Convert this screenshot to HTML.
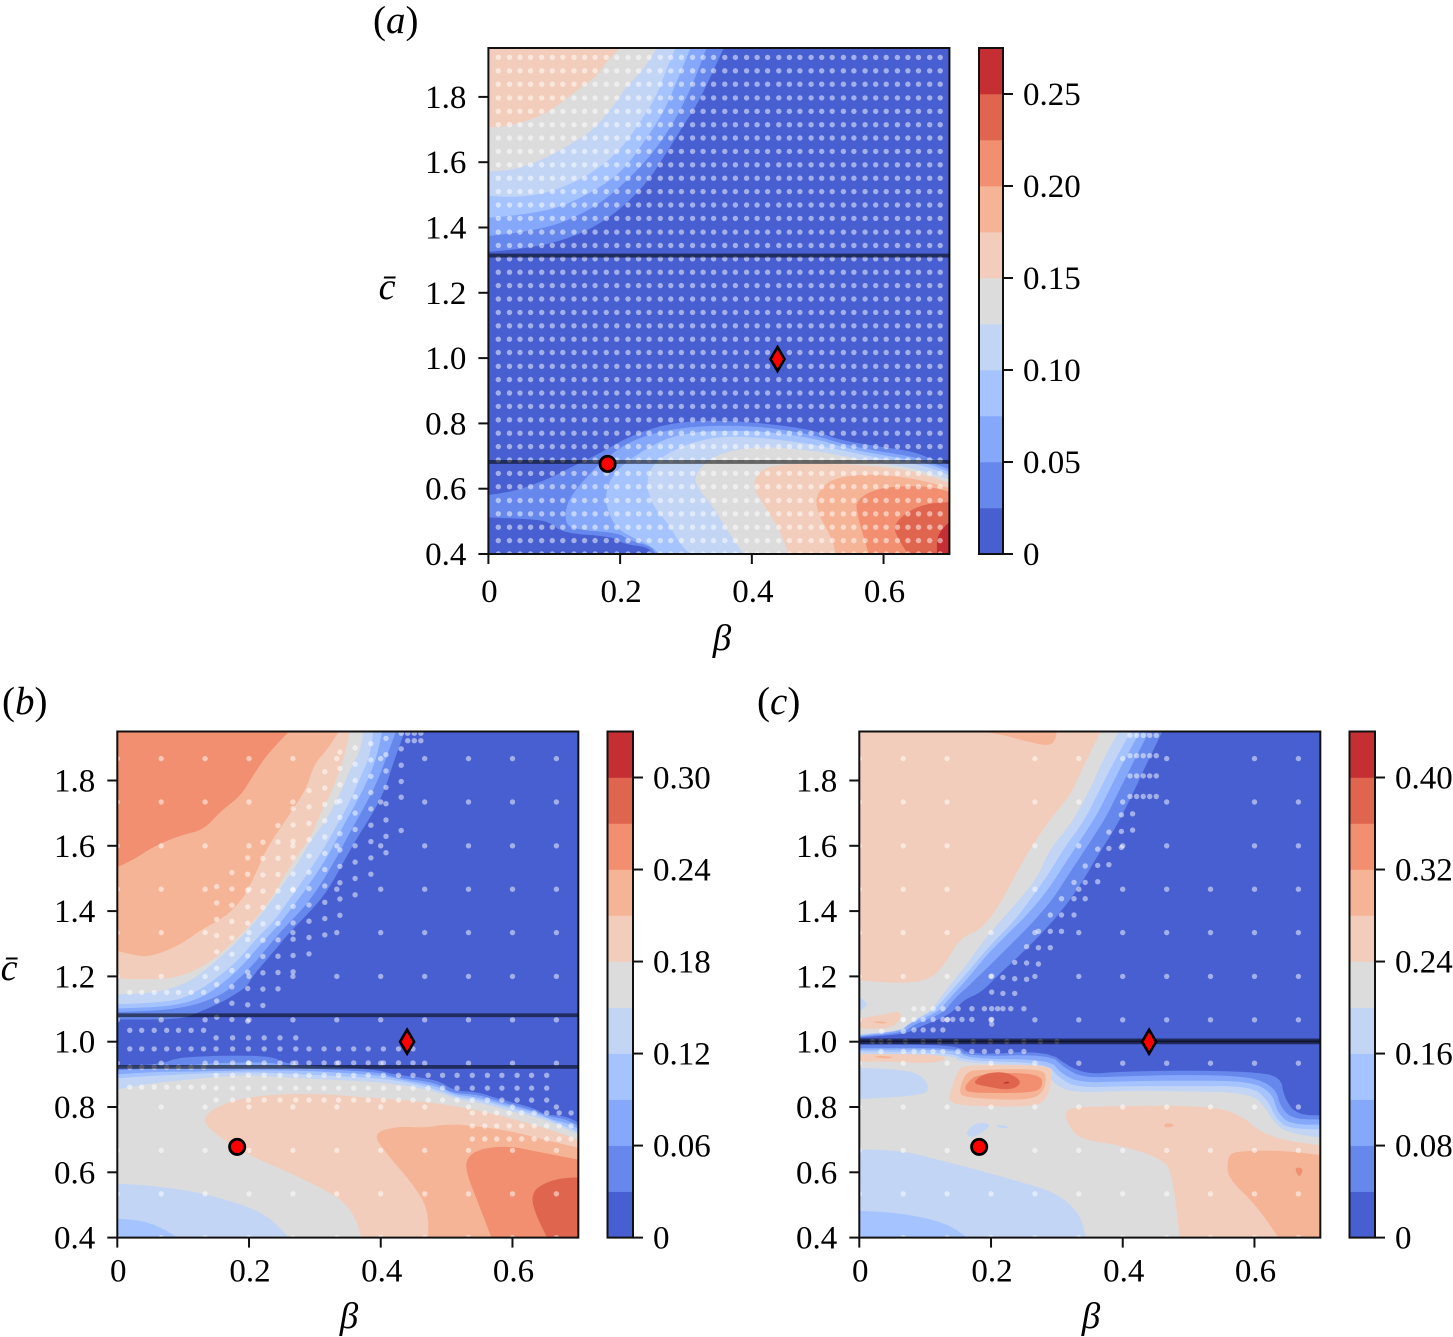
<!DOCTYPE html>
<html lang="en">
<head>
<meta charset="utf-8">
<title>Contour maps over beta and c-bar</title>
<style>
html,body{margin:0;padding:0;background:#fff;}
svg{display:block;}
text{font-family:"Liberation Serif",serif;fill:#000;}
</style>
</head>
<body>
<svg id="figure" xmlns="http://www.w3.org/2000/svg" width="1453" height="1337" viewBox="0 0 1453 1337"></svg>
<script>
const bandColors = ['#475fd1','#6687ec','#85a8fb','#a5c3fe','#c3d5f4','#dcdcdc','#f2cdbb','#f6b497','#f18f70','#e0654f','#c52e32'];

const xTicks = [0,0.2,0.4,0.6];
const xTickLabels = ['0','0.2','0.4','0.6'];
const yTicks = [0.4,0.6,0.8,1.0,1.2,1.4,1.6,1.8];
const yTickLabels = ['0.4','0.6','0.8','1.0','1.2','1.4','1.6','1.8'];

const levelsA = [0,0.025,0.05,0.075,0.1,0.125,0.15,0.175,0.2,0.225,0.25,0.275];
const levelsB = [0,0.03,0.06,0.09,0.12,0.15,0.18,0.21,0.24,0.27,0.30,0.33];
const levelsC = [0,0.04,0.08,0.12,0.16,0.20,0.24,0.28,0.32,0.36,0.40,0.44];

const cbarTicksA = [0,0.05,0.10,0.15,0.20,0.25];
const cbarLabelsA = ['0','0.05','0.10','0.15','0.20','0.25'];
const cbarTicksB = [0,0.06,0.12,0.18,0.24,0.30];
const cbarLabelsB = ['0','0.06','0.12','0.18','0.24','0.30'];
const cbarTicksC = [0,0.08,0.16,0.24,0.32,0.40];
const cbarLabelsC = ['0','0.08','0.16','0.24','0.32','0.40'];

const hLinesA = [1.314,0.682];
const hLinesB = [1.081,0.923];
const hLinesC = [1.004,0.998];

const circleA = [0.181,0.676];
const diamondA = [0.439,0.997];
const circleB = [0.182,0.678];
const diamondB = [0.44,1.0];
const circleC = [0.182,0.678];
const diamondC = [0.44,1.0];

/* Contours: region where value >= level, index i is levels[i+1]. Coordinates are (beta, c-bar). */
const contoursA = [
 [[[.362,1.97],[.321,1.790],[.295,1.709],[.270,1.627],[.240,1.535],[.199,1.453],[.153,1.392],[.098,1.351],[.037,1.331],[-.01,1.324],[-.01,1.97]],
  [[-.01,.578],[.037,.591],[.088,.627],[.133,.673],[.174,.714],[.209,.755],[.255,.790],[.300,.806],[.351,.809],[.417,.801],[.493,.780],[.533,.749],[.594,.729],[.645,.714],[.670,.693],[.71,.668],[.71,.39],[.250,.39],[.245,.420],[.204,.431],[.189,.453],[.113,.464],[.093,.499],[.062,.507],[-.01,.513]]],
 [[[-.01,1.372],[.047,1.384],[.103,1.407],[.153,1.453],[.189,1.504],[.224,1.571],[.255,1.642],[.285,1.734],[.311,1.841],[.335,1.97],[-.01,1.97]],
  [[.255,.39],[.250,.421],[.212,.443],[.199,.464],[.128,.476],[.116,.499],[.119,.556],[.138,.612],[.174,.688],[.214,.744],[.255,.772],[.300,.788],[.351,.794],[.417,.790],[.493,.765],[.544,.734],[.594,.714],[.645,.698],[.675,.678],[.71,.652],[.71,.39]]],
 [[[-.01,1.428],[.047,1.438],[.103,1.458],[.143,1.494],[.179,1.535],[.209,1.586],[.235,1.658],[.265,1.749],[.285,1.841],[.311,1.97],[-.01,1.97]],
  [[.262,.39],[.250,.423],[.204,.464],[.186,.504],[.176,.576],[.189,.647],[.224,.704],[.270,.755],[.311,.773],[.361,.778],[.422,.775],[.493,.755],[.544,.724],[.594,.704],[.645,.688],[.680,.668],[.71,.642],[.71,.39]]],
 [[[-.01,1.499],[.037,1.492],[.088,1.504],[.138,1.545],[.174,1.591],[.204,1.647],[.229,1.719],[.255,1.800],[.270,1.882],[.288,1.97],[-.01,1.97]],
  [[.311,.39],[.290,.433],[.275,.489],[.250,.545],[.239,.617],[.250,.678],[.290,.729],[.341,.758],[.392,.760],[.468,.744],[.533,.719],[.594,.693],[.645,.678],[.680,.658],[.71,.632],[.71,.39]]],
 [[[-.01,1.571],[.032,1.574],[.072,1.598],[.118,1.647],[.159,1.698],[.189,1.770],[.209,1.831],[.235,1.882],[.262,1.97],[-.01,1.97]],
  [[.392,.39],[.376,.433],[.356,.494],[.341,.545],[.316,.606],[.313,.642],[.336,.693],[.371,.719],[.422,.729],[.493,.717],[.544,.698],[.594,.678],[.645,.663],[.680,.642],[.71,.62],[.71,.39]]],
 [[[-.01,1.707],[.022,1.707],[.072,1.734],[.103,1.770],[.138,1.826],[.164,1.862],[.179,1.908],[.21,1.97],[-.01,1.97]],
  [[.457,.39],[.445,.464],[.417,.556],[.402,.601],[.407,.647],[.432,.673],[.493,.678],[.569,.673],[.635,.658],[.680,.632],[.71,.61],[.71,.39]]],
 [[[.528,.39],[.523,.443],[.495,.545],[.503,.601],[.528,.635],[.579,.645],[.635,.635],[.675,.617],[.71,.595],[.71,.39]]],
 [[[.579,.39],[.559,.525],[.559,.566],[.589,.601],[.640,.609],[.675,.605],[.71,.585],[.71,.39]]],
 [[[.640,.39],[.617,.464],[.617,.494],[.640,.535],[.670,.556],[.71,.56],[.71,.39]]],
 [[[.681,.39],[.681,.464],[.71,.515],[.71,.39]]]
];

const contoursB = [
 [[[.44,1.97],[.420,1.859],[.407,1.777],[.390,1.706],[.364,1.624],[.344,1.552],[.319,1.461],[.293,1.399],[.263,1.338],[.238,1.277],[.207,1.205],[.197,1.170],[.182,1.149],[.157,1.119],[.121,1.088],[.096,1.068],[-.01,1.068],[-.01,1.97]],
  [[-.01,.925],[.065,.930],[.096,.955],[.233,.959],[.255,.930],[.395,.915],[.415,.901],[.486,.884],[.511,.850],[.547,.846],[.582,.823],[.633,.797],[.648,.777],[.683,.772],[.71,.74],[.71,.39],[-.01,.39]]],
 [[[.427,1.97],[.410,1.879],[.395,1.797],[.377,1.726],[.354,1.644],[.334,1.568],[.309,1.481],[.283,1.410],[.253,1.348],[.227,1.287],[.200,1.221],[.177,1.180],[.167,1.155],[.141,1.129],[.111,1.109],[.065,1.095],[-.01,1.091],[-.01,1.97]],
  [[-.01,.912],[.081,.920],[.141,.935],[.238,.938],[.258,.920],[.395,.908],[.420,.891],[.486,.874],[.506,.843],[.547,.838],[.582,.816],[.633,.789],[.653,.772],[.683,.762],[.71,.73],[.71,.39],[-.01,.39]]],
 [[[.404,1.97],[.395,1.879],[.382,1.808],[.364,1.736],[.344,1.665],[.324,1.583],[.298,1.501],[.273,1.430],[.245,1.358],[.217,1.297],[.189,1.231],[.167,1.190],[.136,1.144],[.106,1.119],[.065,1.106],[-.01,1.101],[-.01,1.97]],
  [[-.01,.899],[.065,.908],[.116,.908],[.243,.915],[.395,.899],[.430,.884],[.486,.864],[.511,.838],[.547,.830],[.587,.807],[.638,.782],[.658,.762],[.683,.751],[.71,.722],[.71,.39],[-.01,.39]]],
 [[[.39,1.97],[.384,1.879],[.369,1.808],[.352,1.731],[.334,1.665],[.314,1.593],[.288,1.512],[.263,1.440],[.238,1.369],[.212,1.318],[.182,1.246],[.151,1.195],[.126,1.160],[.096,1.129],[.055,1.119],[-.01,1.114],[-.01,1.97]],
  [[-.01,.887],[.065,.897],[.192,.908],[.268,.901],[.395,.889],[.445,.874],[.486,.853],[.516,.830],[.547,.823],[.592,.799],[.643,.772],[.668,.751],[.71,.715],[.71,.39],[.10,.39],[.050,.450],[-.01,.46]]],
 [[[.375,1.97],[.369,1.889],[.354,1.838],[.339,1.762],[.319,1.685],[.293,1.614],[.273,1.542],[.248,1.471],[.222,1.399],[.197,1.338],[.167,1.277],[.131,1.215],[.101,1.175],[.055,1.149],[-.01,1.144],[-.01,1.97]],
  [[-.01,.850],[.040,.869],[.106,.884],[.192,.899],[.268,.889],[.395,.877],[.445,.864],[.491,.843],[.516,.823],[.552,.813],[.597,.787],[.648,.762],[.673,.741],[.71,.705],[.71,.39],[.265,.39],[.233,.460],[.192,.501],[.116,.542],[.040,.562],[-.01,.565]]],
 [[[.356,1.97],[.344,1.869],[.326,1.767],[.303,1.675],[.293,1.624],[.263,1.542],[.238,1.450],[.207,1.369],[.177,1.307],[.136,1.236],[.091,1.195],[.035,1.190],[-.01,1.195],[-.01,1.97]],
  [[.372,.39],[.362,.460],[.339,.522],[.268,.593],[.192,.659],[.136,.736],[.131,.772],[.157,.807],[.202,.833],[.293,.843],[.384,.828],[.471,.816],[.547,.792],[.623,.751],[.673,.721],[.71,.69],[.71,.39]]],
 [[[.342,1.97],[.321,1.900],[.298,1.848],[.288,1.777],[.258,1.685],[.227,1.593],[.207,1.501],[.192,1.440],[.162,1.379],[.131,1.348],[.096,1.297],[.050,1.259],[.020,1.267],[-.01,1.284],[-.01,1.97]],
  [[.472,.39],[.472,.491],[.445,.573],[.410,.654],[.387,.719],[.425,.741],[.466,.736],[.501,.748],[.547,.741],[.597,.726],[.648,.700],[.71,.67],[.71,.39]]],
 [[[.27,1.97],[.227,1.879],[.207,1.818],[.187,1.752],[.157,1.706],[.131,1.649],[.096,1.632],[.055,1.598],[.025,1.558],[-.01,1.525],[-.01,1.97]],
  [[.57,.39],[.547,.511],[.531,.593],[.529,.639],[.547,.670],[.592,.682],[.648,.659],[.71,.635],[.71,.39]]],
 [[[.655,.39],[.633,.481],[.629,.532],[.643,.562],[.673,.583],[.71,.585],[.71,.39]]],
 [[[.71,.50],[.697,.471],[.71,.43]]]
];

const contoursC = [
 [[[.465,1.97],[.437,1.854],[.417,1.767],[.392,1.665],[.366,1.583],[.336,1.481],[.311,1.410],[.280,1.338],[.245,1.267],[.214,1.210],[.184,1.149],[.159,1.129],[.138,1.083],[.088,1.042],[.067,1.022],[-.01,1.012],[-.01,1.97]],
  [[-.01,.991],[.148,.991],[.169,.959],[.285,.973],[.321,.920],[.351,.901],[.392,.908],[.493,.912],[.594,.908],[.640,.894],[.645,.828],[.665,.775],[.71,.775],[.71,.39],[-.01,.39]]],
 [[[.445,1.97],[.417,1.859],[.394,1.767],[.374,1.685],[.346,1.598],[.321,1.522],[.295,1.440],[.265,1.369],[.235,1.307],[.204,1.246],[.171,1.180],[.143,1.129],[.128,1.088],[.083,1.053],[.067,1.027],[-.01,1.014],[-.01,1.97]],
  [[-.01,.981],[.148,.981],[.164,.955],[.290,.961],[.311,.920],[.341,.889],[.402,.894],[.493,.899],[.594,.894],[.632,.859],[.640,.797],[.660,.762],[.71,.762],[.71,.39],[-.01,.39]]],
 [[[.432,1.97],[.404,1.869],[.381,1.777],[.361,1.695],[.331,1.603],[.308,1.532],[.285,1.461],[.255,1.389],[.224,1.328],[.194,1.267],[.161,1.185],[.133,1.124],[.118,1.088],[.077,1.058],[.065,1.032],[-.01,1.016],[-.01,1.97]],
  [[-.01,.976],[.148,.976],[.164,.948],[.290,.945],[.305,.904],[.336,.874],[.402,.879],[.493,.881],[.594,.879],[.627,.843],[.635,.782],[.655,.746],[.71,.746],[.71,.39],[-.01,.39]]],
 [[[.418,1.97],[.387,1.859],[.364,1.767],[.341,1.675],[.311,1.593],[.290,1.522],[.265,1.450],[.235,1.369],[.204,1.307],[.174,1.236],[.148,1.175],[.126,1.124],[.108,1.088],[.072,1.058],[.062,1.034],[-.01,1.018],[-.01,1.97]],
  [[-.01,.971],[.143,.966],[.159,.942],[.285,.935],[.303,.889],[.331,.859],[.402,.864],[.493,.864],[.594,.864],[.620,.823],[.632,.767],[.650,.734],[.71,.731],[.71,.39],[.171,.39],[.133,.445],[.062,.476],[-.01,.483]]],
 [[[.40,1.97],[.371,1.869],[.349,1.767],[.321,1.665],[.290,1.593],[.270,1.501],[.245,1.440],[.214,1.369],[.184,1.297],[.159,1.226],[.138,1.175],[.121,1.129],[.108,1.093],[.077,1.058],[.062,1.032],[-.01,1.022],[-.01,1.083],[.018,1.114],[-.01,1.149],[-.01,1.97]],
  [[-.01,.963],[.143,.959],[.153,.935],[.280,.925],[.295,.869],[.326,.843],[.407,.850],[.493,.848],[.594,.843],[.617,.797],[.630,.751],[.650,.721],[.71,.703],[.71,.39],[.345,.39],[.336,.471],[.300,.537],[.240,.573],[.179,.608],[.128,.634],[.062,.668],[-.01,.670],[-.01,.823],[.078,.833],[.110,.848],[.093,.904],[.047,.917],[-.01,.920]],
  [[.161,.721],[.176,.751],[.194,.751],[.199,.741],[.181,.715],[.169,.705]],
  [[.208,.746],[.227,.741],[.224,.734],[.209,.738]]],
 [[[.372,1.97],[.341,1.848],[.321,1.757],[.295,1.695],[.270,1.624],[.245,1.542],[.222,1.450],[.189,1.348],[.153,1.318],[.133,1.246],[.108,1.190],[.062,1.177],[-.01,1.190],[-.01,1.97]],
  [[-.01,1.068],[.037,1.083],[.060,1.095],[.065,1.073],[.046,1.037],[-.01,1.042]],
  [[-.01,.961],[.037,.963],[.138,.959],[.118,.932],[.037,.940],[-.01,.938]],
  [[.136,.833],[.149,.912],[.162,.929],[.287,.929],[.294,.904],[.285,.821],[.262,.800],[.151,.803],[.136,.821]],
  [[.311,.797],[.366,.802],[.493,.805],[.569,.792],[.620,.705],[.71,.68],[.71,.39],[.487,.39],[.475,.603],[.457,.644],[.392,.685],[.336,.700],[.316,.746]]],
 [[[.18,1.97],[.184,1.949],[.214,1.942],[.245,1.925],[.285,1.905],[.298,1.920],[.301,1.97]],
  [[.019,1.060],[.033,1.063],[.046,1.058],[.033,1.055]],
  [[.019,.955],[.037,.957],[.055,.952],[.037,.948]],
  [[.151,.848],[.161,.904],[.179,.915],[.275,.917],[.285,.894],[.278,.838],[.250,.820],[.159,.828]],
  [[.559,.644],[.569,.665],[.645,.667],[.71,.65],[.71,.39],[.640,.39],[.602,.501],[.559,.583]],
  [[.462,.748],[.473,.751],[.479,.741],[.465,.736]]],
 [[[.161,.869],[.181,.904],[.275,.904],[.279,.859],[.260,.843],[.179,.843],[.161,.848]],
  [[.660,.615],[.675,.613],[.668,.581]]],
 [[[.171,.874],[.191,.904],[.224,.908],[.249,.877],[.230,.850],[.189,.864]]],
 [[[.218,.874],[.227,.879],[.228,.872],[.219,.872]]]
];

/* Sample points */
const sampleBetaA = [.015,.032,.048,.064,.081,.097,.113,.130,.146,.162,.179,.195,.212,.228,.244,.261,.277,.293,.310,.326,.342,.359,.375,.392,.408,.424,.441,.457,.473,.490,.506,.522,.539,.555,.572,.588,.604,.621,.637,.653,.670,.686];
const sampleCA = [.400,.441,.482,.523,.564,.606,.647,.688,.729,.770,.811,.852,.893,.934,.975,1.017,1.058,1.099,1.140,1.181,1.222,1.263,1.304,1.345,1.386,1.428,1.469,1.510,1.551,1.592,1.633,1.674,1.715,1.756,1.797,1.839,1.880,1.921];

const coarseBeta = [0,.0667,.1333,.2,.2667,.3333,.4,.4667,.5333,.6,.6667];
const coarseC = [.4,.534,.667,.8,.934,1.067,1.2,1.334,1.467,1.6,1.734,1.867];
const refineStep = 0.05;
/* beta, highest c-bar, lowest c-bar */
const refineColumnsB = [[.151,1.475,1.075],[.174,1.518,1.068],[.198,1.563,1.063],[.221,1.611,1.110],[.244,1.662,1.160],[.267,1.714,1.214],[.291,1.769,1.270],[.315,1.827,1.327],[.338,1.887,1.387],[.361,1.900,1.449],[.385,1.913,1.513],[.408,1.929,1.579],[.431,1.897,1.797]];
const rowBetasLeftB = [.019,.037,.056,.075,.093,.112,.131];
const rowBetasMidB = [.150,.175,.199,.223,.247,.271,.291,.314,.336,.359,.381,.404,.427,.449];
const rowBetasFarB = [.472,.494,.516,.539,.562,.584,.607,.629,.652];
const rowBetasTailB = [.539,.558,.576,.595,.614,.633,.652,.671,.689];
const extraRowsB = [
 [1.945,[.431,.441,.451,.461]],[1.922,[.441,.451,.461]],[1.749,[.431]],[1.647,[.431]],
 [1.151,rowBetasLeftB],[1.035,rowBetasLeftB],[1.012,[.150,.175,.199,.223,.247,.271]],
 [.978,rowBetasLeftB],[.978,rowBetasMidB],[.935,rowBetasMidB],[.922,rowBetasLeftB],
 [.897,rowBetasMidB],[.897,rowBetasFarB],[.861,rowBetasLeftB],[.858,rowBetasMidB],[.858,rowBetasFarB],
 [.821,rowBetasMidB],[.821,rowBetasFarB],[.782,rowBetasTailB],[.742,rowBetasTailB],[.702,rowBetasTailB]
];

const coarseNoMid = [0,.0667,.1333,.2667,.3333,.4,.4667,.6,.6667];
const coarseNo20 = [0,.0667,.1333,.2667,.3333,.4,.4667,.5333,.6,.6667];
const coarseRowsC = [
 [1.867,coarseNoMid],[1.734,coarseNoMid],[1.6,coarseNoMid],[1.467,coarseNo20],[1.334,coarseBeta],[1.2,coarseBeta],
 [1.067,coarseBeta],[.934,coarseBeta],[.8,coarseBeta],[.667,coarseNo20],[.534,coarseBeta],[.4,coarseBeta]
];
const rowBetasTopC = [.411,.421,.431,.441,.451];
const extraRowsC = [
 [1.938,rowBetasTopC],[1.876,rowBetasTopC],[1.814,rowBetasTopC],[1.751,rowBetasTopC],
 [1.698,[.415]],[1.648,[.415]],[1.695,[.398]],[1.644,[.398]],[1.595,[.398]],
 [1.642,[.379]],[1.592,[.379]],[1.542,[.379]],[1.590,[.362]],[1.540,[.362]],[1.490,[.362]],
 [1.538,[.343]],[1.488,[.343]],[1.438,[.343]],[1.488,[.326]],[1.438,[.326]],[1.388,[.326]],
 [1.438,[.307]],[1.388,[.307]],[1.338,[.307]],[1.388,[.290]],[1.338,[.290]],[1.288,[.290]],
 [1.338,[.272]],[1.288,[.272]],[1.238,[.272]],[1.291,[.254]],[1.241,[.254]],[1.191,[.254]],
 [1.243,[.236]],[1.193,[.236]],[1.148,[.236]],[1.197,[.218]],[1.148,[.218]],[1.201,[.201]],[1.152,[.201]],
 [1.101,[.083,.097,.112,.127,.150,.171,.190,.201,.210,.218,.230,.250]],
 [1.068,[.067,.083,.097,.112,.127,.134,.142,.156,.171,.201]],[1.054,[.201]],
 [1.036,[.083,.097,.112,.127]],[1.032,[.034,.067]],
 [1.001,[.020,.033,.046,.070,.097,.122,.147,.173,.199,.224,.250,.275,.300]],
 [.970,[.033,.067,.083,.097,.112,.127,.150,.171,.190,.210,.230,.250]]
];

const panels = [
 {id:'a',left:488.4,top:48,bottom:554,cbarLeft:979,cbarRight:1003,levels:levelsA,contours:contoursA,cbarTicks:cbarTicksA,cbarLabels:cbarLabelsA,hLines:hLinesA,circle:circleA,diamond:diamondA,tag:'(a)',tagX:373,tagY:33,betaX:722,betaY:650,cbarX:387,cbarY:299,xLabelDrop:48},
 {id:'b',left:117.3,top:731.5,bottom:1237.6,cbarLeft:607.5,cbarRight:633,levels:levelsB,contours:contoursB,cbarTicks:cbarTicksB,cbarLabels:cbarLabelsB,hLines:hLinesB,circle:circleB,diamond:diamondB,tag:'(b)',tagX:2,tagY:714,betaX:349,betaY:1328,cbarX:9,cbarY:980,xLabelDrop:44},
 {id:'c',left:859.3,top:731.5,bottom:1237.6,cbarLeft:1349.5,cbarRight:1375,levels:levelsC,contours:contoursC,cbarTicks:cbarTicksC,cbarLabels:cbarLabelsC,hLines:hLinesC,circle:circleC,diamond:diamondC,tag:'(c)',tagX:757,tagY:714,betaX:1091,betaY:1328,cbarX:null,cbarY:null,xLabelDrop:44}
];

panels[0].dots = crossDots(sampleBetaA, sampleCA);
panels[1].dots = crossDots(coarseBeta, coarseC).concat(columnDots(refineColumnsB), rowDots(extraRowsB));
panels[2].dots = rowDots(coarseRowsC).concat(rowDots(extraRowsC));

function crossDots(bs, cs){
  const out = [];
  bs.forEach(function(b){ cs.forEach(function(c){ out.push([b,c]); }); });
  return out;
}
function columnDots(cols){
  const out = [];
  cols.forEach(function(col){
    for(let c = col[1]; c >= col[2]-0.002; c -= refineStep){ out.push([col[0],c]); }
  });
  return out;
}
function rowDots(rows){
  const out = [];
  rows.forEach(function(row){ row[1].forEach(function(b){ out.push([b,row[0]]); }); });
  return out;
}

const NS = 'http://www.w3.org/2000/svg';
const BETA_MAX = 0.7, CBAR_MIN = 0.4, CBAR_MAX = 1.95;
const PX_PER_BETA = 658.6, PX_PER_C = 326.5;
const fig = document.getElementById('figure');

function mk(tag, parent){
  const el = document.createElementNS(NS, tag);
  parent.appendChild(el);
  return el;
}
function outside(p){ return p[0] < 0 || p[0] > BETA_MAX || p[1] < CBAR_MIN || p[1] > CBAR_MAX; }
function smooth(ring){
  const out = [], n = ring.length;
  for(let i = 0; i < n; i++){
    const p = ring[i], a = ring[(i+n-1)%n], b = ring[(i+1)%n];
    if(outside(p)){ out.push(p); continue; }
    out.push([p[0]+(a[0]-p[0])*0.25, p[1]+(a[1]-p[1])*0.25]);
    out.push([p[0]+(b[0]-p[0])*0.25, p[1]+(b[1]-p[1])*0.25]);
  }
  return out;
}

panels.forEach(function(P){
  const xs = function(b){ return P.left + b*PX_PER_BETA; };
  const ys = function(c){ return P.bottom - (c-CBAR_MIN)*PX_PER_C; };
  const right = xs(BETA_MAX);
  const cs = function(v){
    const max = P.levels[P.levels.length-1];
    return P.bottom - (v/max)*(P.bottom-P.top);
  };

  const g = mk('g', fig);
  
  

  const clip = mk('clipPath', g);
  clip.setAttribute('id', 'clip-' + P.id);
  const clipRect = mk('rect', clip);
  clipRect.setAttribute('x', P.left);
  clipRect.setAttribute('y', P.top);
  clipRect.setAttribute('width', right-P.left);
  clipRect.setAttribute('height', P.bottom-P.top);

  const plot = mk('g', g);
  plot.setAttribute('clip-path', 'url(#clip-' + P.id + ')');
  
  

  const base = mk('rect', plot);
  base.setAttribute('x', P.left);
  base.setAttribute('y', P.top);
  base.setAttribute('width', right-P.left);
  base.setAttribute('height', P.bottom-P.top);
  base.setAttribute('fill', bandColors[0]);
  
  

  P.contours.forEach(function(rings, i){
    let d = '';
    rings.forEach(function(ring){
      const r = smooth(smooth(ring));
      d += 'M' + r.map(function(p){ return xs(p[0]).toFixed(1) + ' ' + ys(p[1]).toFixed(1); }).join('L') + 'Z';
    });
    const path = mk('path', plot);
    path.setAttribute('d', d);
    path.setAttribute('fill', bandColors[i+1]);
    path.setAttribute('fill-rule', 'evenodd');
    
    
  });

  const dots = mk('g', plot);
  
  
  dots.setAttribute('fill', '#fff');
  dots.setAttribute('fill-opacity', '0.5');
  P.dots.forEach(function(p){
    const dot = mk('circle', dots);
    dot.setAttribute('cx', xs(p[0]).toFixed(1));
    dot.setAttribute('cy', ys(p[1]).toFixed(1));
    dot.setAttribute('r', '2.7');
    
    
  });

  P.hLines.forEach(function(c){
    const ln = mk('line', plot);
    ln.setAttribute('x1', P.left);
    ln.setAttribute('x2', right);
    ln.setAttribute('y1', ys(c));
    ln.setAttribute('y2', ys(c));
    ln.setAttribute('stroke', '#000');
    ln.setAttribute('stroke-opacity', '0.55');
    ln.setAttribute('stroke-width', '3.8');
    
    
  });

  const frame = mk('rect', g);
  frame.setAttribute('x', P.left);
  frame.setAttribute('y', P.top);
  frame.setAttribute('width', right-P.left);
  frame.setAttribute('height', P.bottom-P.top);
  frame.setAttribute('fill', 'none');
  frame.setAttribute('stroke', '#111');
  frame.setAttribute('stroke-width', '2');
  
  

  const circ = mk('circle', g);
  circ.setAttribute('cx', xs(P.circle[0]));
  circ.setAttribute('cy', ys(P.circle[1]));
  circ.setAttribute('r', '7.6');
  circ.setAttribute('fill', '#ff0000');
  circ.setAttribute('stroke', '#000');
  circ.setAttribute('stroke-width', '2.8');
  
  

  const dx = xs(P.diamond[0]), dy = ys(P.diamond[1]);
  const dia = mk('polygon', g);
  dia.setAttribute('points', dx + ',' + (dy-12) + ' ' + (dx+7) + ',' + dy + ' ' + dx + ',' + (dy+12) + ' ' + (dx-7) + ',' + dy);
  dia.setAttribute('fill', '#ff0000');
  dia.setAttribute('stroke', '#000');
  dia.setAttribute('stroke-width', '2.6');
  
  

  xTicks.forEach(function(t, i){
    const tk = mk('line', g);
    tk.setAttribute('x1', xs(t));
    tk.setAttribute('x2', xs(t));
    tk.setAttribute('y1', P.bottom);
    tk.setAttribute('y2', P.bottom+10);
    tk.setAttribute('stroke', '#111');
    tk.setAttribute('stroke-width', '2');
    
    
    const tx = mk('text', g);
    tx.textContent = xTickLabels[i];
    tx.setAttribute('x', xs(t)+1);
    tx.setAttribute('y', P.bottom+P.xLabelDrop);
    tx.setAttribute('font-size', '33');
    tx.setAttribute('text-anchor', 'middle');
    
    
  });
  yTicks.forEach(function(t, i){
    const tk = mk('line', g);
    tk.setAttribute('x1', P.left-10);
    tk.setAttribute('x2', P.left);
    tk.setAttribute('y1', ys(t));
    tk.setAttribute('y2', ys(t));
    tk.setAttribute('stroke', '#111');
    tk.setAttribute('stroke-width', '2');
    
    
    const tx = mk('text', g);
    tx.textContent = yTickLabels[i];
    tx.setAttribute('x', P.left-22);
    tx.setAttribute('y', ys(t)+11);
    tx.setAttribute('font-size', '33');
    tx.setAttribute('text-anchor', 'end');
    
    
  });

  const bar = mk('g', g);
  
  
  for(let i = 0; i < P.levels.length-1; i++){
    const seg = mk('rect', bar);
    seg.setAttribute('x', P.cbarLeft);
    seg.setAttribute('y', cs(P.levels[i+1]));
    seg.setAttribute('width', P.cbarRight-P.cbarLeft);
    seg.setAttribute('height', cs(P.levels[i])-cs(P.levels[i+1])+0.3);
    seg.setAttribute('fill', bandColors[i]);
    
    
  }
  const barFrame = mk('rect', bar);
  barFrame.setAttribute('x', P.cbarLeft);
  barFrame.setAttribute('y', P.top);
  barFrame.setAttribute('width', P.cbarRight-P.cbarLeft);
  barFrame.setAttribute('height', P.bottom-P.top);
  barFrame.setAttribute('fill', 'none');
  barFrame.setAttribute('stroke', '#111');
  barFrame.setAttribute('stroke-width', '2');
  
  
  P.cbarTicks.forEach(function(t, i){
    const tk = mk('line', bar);
    tk.setAttribute('x1', P.cbarRight);
    tk.setAttribute('x2', P.cbarRight+10);
    tk.setAttribute('y1', cs(t));
    tk.setAttribute('y2', cs(t));
    tk.setAttribute('stroke', '#111');
    tk.setAttribute('stroke-width', '2');
    
    
    const tx = mk('text', bar);
    tx.textContent = P.cbarLabels[i];
    tx.setAttribute('x', P.cbarRight+20);
    tx.setAttribute('y', cs(t)+11);
    tx.setAttribute('font-size', '33');
    
    
  });

  const xl = mk('text', g);
  xl.textContent = 'β';
  xl.setAttribute('x', P.betaX);
  xl.setAttribute('y', P.betaY);
  xl.setAttribute('font-size', '37');
  xl.setAttribute('font-style', 'italic');
  xl.setAttribute('text-anchor', 'middle');
  
  

  if(P.cbarX !== null){
    const yl = mk('text', g);
    yl.textContent = 'c\u0304';
    yl.setAttribute('x', P.cbarX);
    yl.setAttribute('y', P.cbarY);
    yl.setAttribute('font-size', '38');
    yl.setAttribute('font-style', 'italic');
    yl.setAttribute('text-anchor', 'middle');
    
    
  }

  const tag = mk('text', g);
  tag.setAttribute('x', P.tagX);
  tag.setAttribute('y', P.tagY);
  tag.setAttribute('font-size', '39');
  
  
  const open = mk('tspan', tag);
  open.textContent = '(';
  const letter = mk('tspan', tag);
  letter.textContent = P.id;
  letter.setAttribute('font-style', 'italic');
  const close = mk('tspan', tag);
  close.textContent = ')';
});
</script>
</body>
</html>
